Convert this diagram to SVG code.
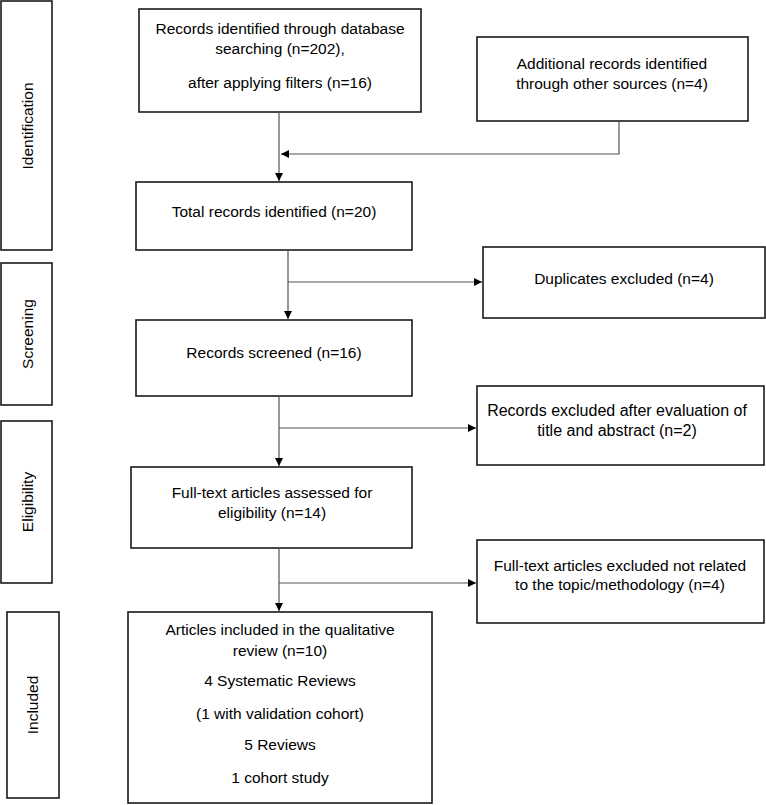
<svg xmlns="http://www.w3.org/2000/svg" width="766" height="805" viewBox="0 0 766 805">
<defs>
<marker id="ah" viewBox="0 0 10 10" refX="10" refY="5" markerWidth="8" markerHeight="8" markerUnits="userSpaceOnUse" orient="auto">
<path d="M0,0 L10,5 L0,10 Z" fill="#000"/>
</marker>
<style>
.box{fill:#fff;stroke:#1a1a1a;stroke-width:1.6}
.t{font-family:"Liberation Sans",Arial,sans-serif;font-size:15.5px;fill:#000;text-anchor:middle;dominant-baseline:central}
.c{fill:none;stroke:#555;stroke-width:1.2}
</style>
</defs>
<rect width="766" height="805" fill="#fff"/>
<g id="stage-identification"><rect class="box" x="1" y="1" width="51" height="249"/><text class="t" transform="translate(27,126) rotate(-90)">Identification</text></g>
<g id="stage-screening"><rect class="box" x="1" y="263" width="51" height="142"/><text class="t" transform="translate(27,334) rotate(-90)">Screening</text></g>
<g id="stage-eligibility"><rect class="box" x="1" y="421" width="51" height="162"/><text class="t" transform="translate(27,502) rotate(-90)">Eligibility</text></g>
<g id="stage-included"><rect class="box" x="7" y="612" width="52" height="186"/><text class="t" transform="translate(32,705) rotate(-90)">Included</text></g>

<g id="n-database"><rect class="box" x="139" y="9" width="282" height="103"/>
<text class="t" x="280" y="28">Records identified through database</text>
<text class="t" x="280" y="48">searching (n=202),</text>
<text class="t" x="280" y="82">after applying filters (n=16)</text></g>
<g id="n-additional"><rect class="box" x="477" y="37" width="271" height="84"/>
<text class="t" x="612" y="63">Additional records identified</text>
<text class="t" x="612" y="83">through other sources (n=4)</text></g>
<g id="n-total"><rect class="box" x="136" y="182" width="276" height="68"/>
<text class="t" x="274" y="211">Total records identified (n=20)</text></g>
<g id="n-duplicates"><rect class="box" x="483" y="247" width="282" height="71"/>
<text class="t" x="624" y="278">Duplicates excluded (n=4)</text></g>
<g id="n-screened"><rect class="box" x="136" y="320" width="276" height="76"/>
<text class="t" x="274" y="352">Records screened (n=16)</text></g>
<g id="n-excluded-title"><rect class="box" x="477" y="386" width="287" height="79"/>
<text class="t" x="617" y="410" style="font-size:16px">Records excluded after evaluation of</text>
<text class="t" x="617" y="430" style="font-size:16px">title and abstract (n=2)</text></g>
<g id="n-fulltext"><rect class="box" x="131" y="467" width="281" height="81"/>
<text class="t" x="272" y="492">Full-text articles assessed for</text>
<text class="t" x="272" y="512">eligibility (n=14)</text></g>
<g id="n-excluded-full"><rect class="box" x="477" y="540" width="287" height="83"/>
<text class="t" x="620" y="565">Full-text articles excluded not related</text>
<text class="t" x="620" y="584">to the topic/methodology (n=4)</text></g>
<g id="n-included"><rect class="box" x="128" y="612" width="304" height="191"/>
<text class="t" x="280" y="629">Articles included in the qualitative</text>
<text class="t" x="280" y="650">review (n=10)</text>
<text class="t" x="280" y="680">4 Systematic Reviews</text>
<text class="t" x="280" y="713">(1 with validation cohort)</text>
<text class="t" x="280" y="744">5 Reviews</text>
<text class="t" x="280" y="777">1 cohort study</text></g>

<g id="connectors">
<path class="c" d="M279,112 V181" marker-end="url(#ah)"/>
<path class="c" d="M619,121 V154 H281" marker-end="url(#ah)"/>
<path class="c" d="M288,250 V319" marker-end="url(#ah)"/>
<path class="c" d="M288,282 H482" marker-end="url(#ah)"/>
<path class="c" d="M279,396 V466" marker-end="url(#ah)"/>
<path class="c" d="M279,428 H476" marker-end="url(#ah)"/>
<path class="c" d="M279,548 V611" marker-end="url(#ah)"/>
<path class="c" d="M279,583 H476" marker-end="url(#ah)"/>
</g>
</svg>
